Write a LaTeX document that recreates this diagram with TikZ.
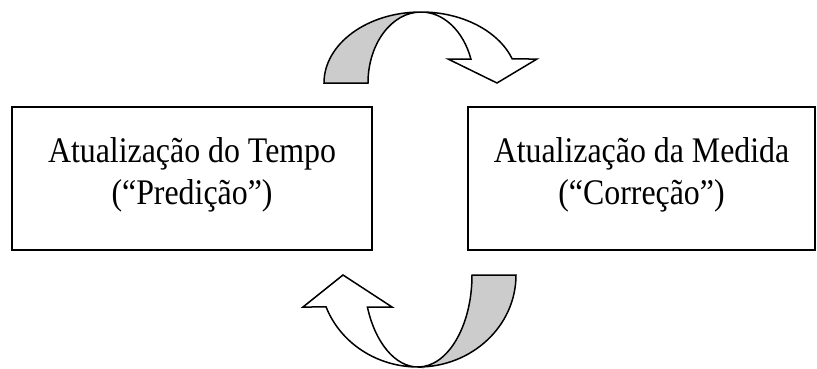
\documentclass[tikz,border=0pt]{standalone}
\usepackage{fontspec}
\setmainfont{Liberation Serif}
\definecolor{bandgray}{HTML}{CCCCCC}
\newcommand{\narrowtext}[1]{\scalebox{0.885}[1]{#1}}
\tikzset{
  x=1pt, y=1pt,
  stagebox/.style={draw=black, line width=1.8pt, inner sep=0pt},
  stagetext/.style={anchor=base, inner sep=0pt, font=\fontsize{36}{42}\selectfont},
  arrowline/.style={draw=black, line width=1.5pt, line join=miter},
  backband/.style={arrowline, fill=bandgray},
  frontband/.style={arrowline, fill=white},
}
\begin{document}
\begin{tikzpicture}
\useasboundingbox (0,0) rectangle (817,368);

% the two update stages
\node[stagebox, minimum width=360pt, minimum height=143pt] (tempo) at (192,189.5) {};
\node[stagebox, minimum width=347pt, minimum height=143pt] (medida) at (641.5,189.5) {};
\node[stagetext] (tempo1)  at (192,206) {\narrowtext{Atualização do Tempo}};
\node[stagetext] (tempo2)  at (192,164) {\narrowtext{(“Predição”)}};
\node[stagetext] (medida1) at (641.5,206) {\narrowtext{Atualização da Medida}};
\node[stagetext] (medida2) at (641.5,164) {\narrowtext{(“Correção”)}};

% upper curved arrow: from the time update over to the measurement update
\path[backband] (324,285) arc[start angle=180, end angle=90, x radius=97, y radius=71]
  arc[start angle=90, end angle=180, x radius=53, y radius=71] -- cycle;
\path[frontband] (421,356) arc[start angle=90, end angle=19.76, x radius=97, y radius=71]
  -- (537,309) -- (497,285) -- (448,309) -- (470.9,309)
  arc[start angle=19.76, end angle=90, x radius=53, y radius=71] -- cycle;

% lower curved arrow: from the measurement update back to the time update
\path[backband] (516,93) arc[start angle=0, end angle=-90, x radius=98, y radius=92]
  arc[start angle=-90, end angle=0, x radius=54, y radius=92] -- cycle;
\path[frontband] (418,1) arc[start angle=270, end angle=200.35, x radius=98, y radius=92]
  -- (303,61) -- (343,93) -- (392,61) -- (367.4,61)
  arc[start angle=200.35, end angle=270, x radius=54, y radius=92] -- cycle;
\end{tikzpicture}
\end{document}
